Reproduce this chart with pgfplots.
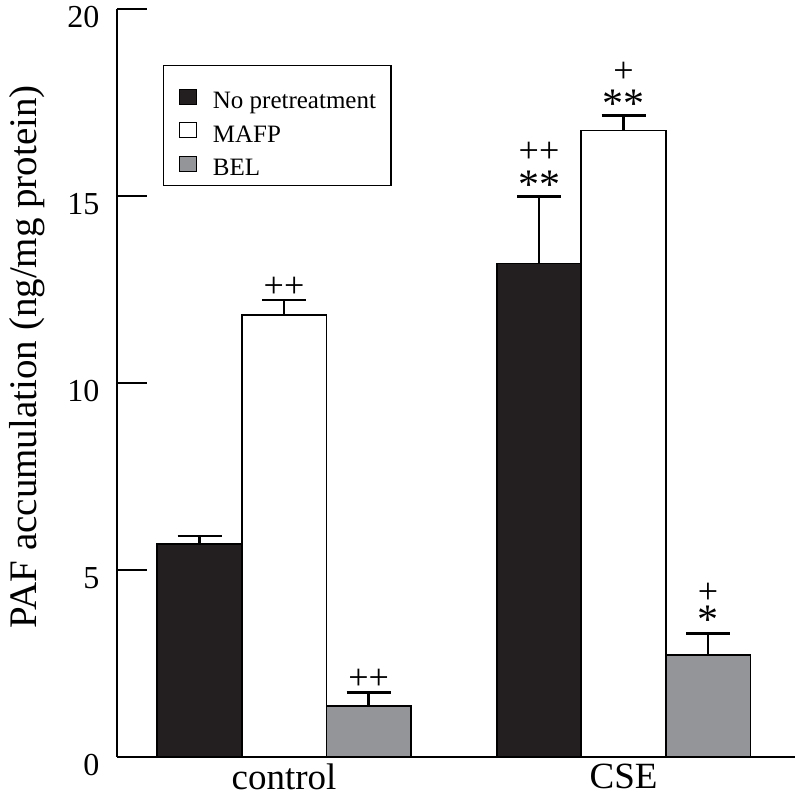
\documentclass[border=0pt]{standalone}
\usepackage{fontspec}
\setmainfont{Liberation Serif}
\usepackage{pgfplots}
\pgfplotsset{compat=1.18}
\definecolor{barblack}{RGB}{35,31,32}
\definecolor{bargray}{RGB}{147,149,152}
\begin{document}
\begin{tikzpicture}[sig/.style={font=\fontsize{36}{40}\selectfont, inner sep=0pt},
  star/.style={font=\fontsize{42}{46}\selectfont, inner sep=0pt}]
\pgfplotsset{
  mybar/.style={ybar, bar width=0.249, bar shift=0, draw=black, line width=1.6pt,
    /pgfplots/legend image code/.code={\draw[##1, line width=1.3pt] (0pt,-12pt) rectangle (17pt,3pt);},
    error bars/y dir=plus, error bars/y explicit,
    error bars/error bar style={line width=2.2pt, black},
    error bars/error mark options={rotate=90, mark size=22pt, line width=2.6pt, black},
  },
}
\begin{axis}[
  at={(0pt,0pt)}, anchor=south west,
  scale only axis, width=678pt, height=748pt,
  xmin=0.508, xmax=2.505, ymin=0, ymax=20,
  axis x line*=bottom, axis y line*=left,
  axis line style={-, line width=2pt},
  x axis line style={line width=2.6pt},
  xtick={1,2}, xticklabels={control,CSE},
  major x tick style={draw=none},
  ytick={0,5,10,15,20},
  tick align=inside, major tick length=30pt,
  major y tick style={line width=2pt, black},
  /pgf/number format/assume math mode=true,
  yticklabel style={font=\fontsize{32}{36}\selectfont, xshift=-14pt, yshift=-8pt},
  xticklabel style={font=\fontsize{37}{42}\selectfont, yshift=-3pt},
  ylabel={PAF accumulation (ng/mg protein)},
  every axis y label/.style={at={(axis description cs:0,0.535)}, xshift=-80pt, rotate=90, anchor=base, font=\fontsize{39}{44}\selectfont},
  legend style={at={(rel axis cs:0.0678,0.9251)}, anchor=north west, draw=black, line width=1.3pt,
    font=\fontsize{25}{28}\selectfont, inner xsep=15pt, inner ysep=4pt,
    nodes={inner sep=0pt, text height=39pt, text depth=6pt},
    row sep=-11.5pt, column sep=16pt},
  legend cell align=left,
  clip=false,
]
% No pretreatment
\addplot[mybar, fill=barblack] coordinates {
  (0.751,5.70) +- (0,0.21)
  (1.751,13.20) +- (0,1.78)
};
\addlegendentry{No pretreatment}
% MAFP
\addplot[mybar, fill=white] coordinates {
  (1,11.81) +- (0,0.41)
  (2,16.75) +- (0,0.41)
};
\addlegendentry{MAFP}
% BEL
\addplot[mybar, fill=bargray] coordinates {
  (1.249,1.36) +- (0,0.37)
  (2.249,2.72) +- (0,0.59)
};
\addlegendentry{BEL}

\node[sig] at (axis cs:1,12.57) {++};
\node[sig] at (axis cs:1.249,2.08) {++};
\node[star] at (axis cs:1.751,15.30) {**};
\node[sig] at (axis cs:1.751,16.16) {++};
\node[star] at (axis cs:2,17.46) {**};
\node[sig] at (axis cs:2,18.30) {+};
\node[star] at (axis cs:2.249,3.66) {*};
\node[sig] at (axis cs:2.249,4.37) {+};
\end{axis}
\pgfresetboundingbox
\path (-117pt,-48pt) rectangle (678pt,757pt);
\end{tikzpicture}
\end{document}
